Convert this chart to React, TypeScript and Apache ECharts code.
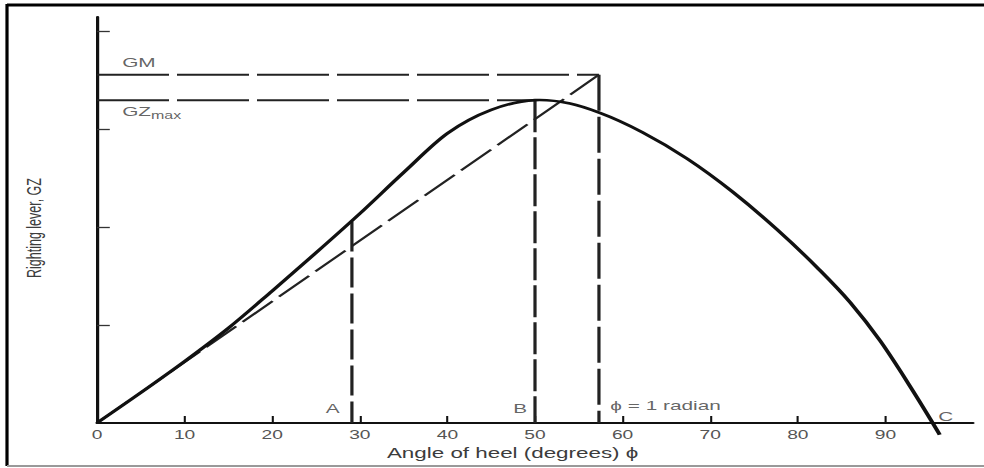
import React, { useEffect, useRef } from "react";
import * as echarts from "echarts";

// ---- data ----
const gzAngles = [0, 5, 10, 15, 20, 25, 30, 35, 40, 45, 50, 54, 57.4, 62.3, 67.4, 72.6, 77.6, 82.2, 86, 89.4, 92.5, 95.4, 96.2];
const gzValues = [0, 0.31, 0.63, 0.97, 1.35, 1.74, 2.14, 2.56, 2.96, 3.2, 3.3, 3.265, 3.17, 2.97, 2.7, 2.36, 1.98, 1.59, 1.23, 0.84, 0.42, 0, -0.12];

const GM_VALUE = 3.56;
const GZ_MAX = 3.3;
const ANGLE_GZ_MAX = 50;
const ONE_RADIAN = 57.3;
const ANGLE_A = 29.1;
const GZ_AT_A = 2.06;

const xTickValues = [10, 20, 30, 40, 50, 60, 70, 80, 90];
const xLabelValues = [0, 10, 20, 30, 40, 50, 60, 70, 80, 90];
const yTickValues = [1, 2, 3, 4];

const noteNames = ["GM", "GZmax", "A", "B", "ϕ = 1 radian", "C"];
const noteX = [2.87, 2.87, 26.9, 48.3, 58.6, 96.9];
const noteY = [3.68, 3.18, 0.153, 0.153, 0.18, 0.07];
const noteAlign = ["left", "left", "center", "center", "left", "center"];

const S = 1.6; // horizontal stretch of the reference figure
const W = 984 / S;
const H = 468;
const INK = "#111";
const TXT = "#3c3c3c";
const FONT = "'Liberation Sans', Arial, Helvetica, sans-serif";

// smooth cubic Hermite path through pixel points (single-valued in x)
function smoothPath(pts: number[][]): string {
  const n = pts.length;
  const m: number[] = [];
  for (let i = 0; i < n; i++) {
    if (i === 0) m.push((pts[1][1] - pts[0][1]) / (pts[1][0] - pts[0][0]));
    else if (i === n - 1) m.push((pts[i][1] - pts[i - 1][1]) / (pts[i][0] - pts[i - 1][0]));
    else {
      const h0 = pts[i][0] - pts[i - 1][0];
      const h1 = pts[i + 1][0] - pts[i][0];
      const d0 = (pts[i][1] - pts[i - 1][1]) / h0;
      const d1 = (pts[i + 1][1] - pts[i][1]) / h1;
      m.push((d0 * h1 + d1 * h0) / (h0 + h1));
    }
  }
  let d = `M${pts[0][0]},${pts[0][1]}`;
  for (let i = 0; i < n - 1; i++) {
    const h = pts[i + 1][0] - pts[i][0];
    const c1x = pts[i][0] + h / 3;
    const c1y = pts[i][1] + (m[i] * h) / 3;
    const c2x = pts[i + 1][0] - h / 3;
    const c2y = pts[i + 1][1] - (m[i + 1] * h) / 3;
    d += ` C${c1x},${c1y} ${c2x},${c2y} ${pts[i + 1][0]},${pts[i + 1][1]}`;
  }
  return d;
}

export default function App() {
  const ref = useRef<HTMLDivElement>(null);
  useEffect(() => {
    if (!ref.current) return;
    const chart = echarts.init(ref.current, null, { renderer: "svg" });
    const curve = gzAngles.map((a, i) => [a, gzValues[i]]);
    const dashed = (data: number[][], dash: number[], width = 2) => ({
      type: "line",
      data,
      symbol: "none",
      silent: true,
      clip: false,
      z: 2,
      lineStyle: { color: "#222", width, type: dash },
    });
    const notes = noteNames.map((n, i) => ({
      name: n,
      value: [noteX[i], noteY[i]],
      label: {
        show: true,
        position: "inside",
        align: noteAlign[i],
        verticalAlign: "middle",
        formatter: n === "GZmax" ? "{a|GZ}{b|max}" : "{b}",
        color: TXT,
        fontSize: 13,
        fontFamily: FONT,
        rich: {
          a: { fontSize: 13, color: TXT, fontFamily: FONT },
          b: { fontSize: 10, color: TXT, fontFamily: FONT, padding: [8, 0, 0, 0] },
        },
      },
    }));
    chart.setOption({
      animation: false,
      backgroundColor: "#fff",
      grid: { left: 97 / S, right: W - 973 / S, top: 17, bottom: 45 },
      xAxis: {
        type: "value",
        min: 0,
        max: 100,
        interval: 10,
        name: "Angle of heel (degrees) ϕ",
        nameLocation: "middle",
        nameGap: 23,
        nameTextStyle: { color: TXT, fontSize: 14, fontFamily: FONT, padding: [0, 28, 0, 0] },
        axisLine: { lineStyle: { color: INK, width: 2 } },
        axisTick: {
          show: true,
          inside: true,
          length: 7,
          customValues: xTickValues,
          lineStyle: { color: INK, width: 1.3 },
        },
        axisLabel: {
          customValues: xLabelValues,
          color: "#555",
          fontSize: 12,
          fontFamily: FONT,
          margin: 6,
        },
        splitLine: { show: false },
      },
      yAxis: {
        type: "value",
        min: 0,
        max: 4.15,
        interval: 1,
        axisLine: { show: true, lineStyle: { color: INK, width: 2 } },
        axisTick: {
          show: true,
          inside: true,
          length: 8,
          customValues: yTickValues,
          lineStyle: { color: "#333", width: 1.3 },
        },
        axisLabel: { show: false },
        splitLine: { show: false },
      },
      graphic: [
        { type: "line", shape: { x1: 7 / S, y1: 4, x2: 7 / S, y2: 466 }, style: { stroke: "#000", lineWidth: 2 } },
        { type: "line", shape: { x1: 7 / S, y1: 5, x2: W, y2: 5 }, style: { stroke: "#000", lineWidth: 3 } },
        { type: "line", shape: { x1: 7 / S, y1: 466, x2: W, y2: 466 }, style: { stroke: "#999", lineWidth: 2 } },
        {
          type: "text",
          x: 34 / S,
          y: 228,
          rotation: Math.PI / 2,
          style: {
            text: "Righting lever, GZ",
            fill: TXT,
            font: `12.5px ${FONT}`,
            align: "center",
            verticalAlign: "middle",
          },
        },
      ],
      series: [
        dashed([[0, GM_VALUE], [ONE_RADIAN, GM_VALUE]], [45, 5]),
        dashed([[0, GZ_MAX], [ANGLE_GZ_MAX, GZ_MAX]], [45, 5]),
        dashed([[ONE_RADIAN, GM_VALUE], [ONE_RADIAN, 0]], [36, 6]),
        dashed([[ANGLE_GZ_MAX, GZ_MAX], [ANGLE_GZ_MAX, 0]], [32, 5]),
        dashed([[ANGLE_A, GZ_AT_A], [ANGLE_A, 0]], [30, 6]),
        dashed([[0, 0], [ONE_RADIAN, GM_VALUE]], [28, 6], 1.8),
        {
          type: "custom",
          name: "GZ",
          data: [curve[0]],
          silent: true,
          clip: false,
          z: 3,
          renderItem: (_params: any, api: any) => {
            const pts = curve.map((p) => api.coord(p));
            return {
              type: "path",
              shape: { pathData: smoothPath(pts) },
              style: { stroke: INK, lineWidth: 2.6, fill: "none" },
            };
          },
        },
        {
          type: "scatter",
          data: notes,
          symbolSize: 1,
          silent: true,
          itemStyle: { color: "transparent" },
          z: 4,
        },
      ],
    });
    return () => chart.dispose();
  }, []);
  return (
    <div
      ref={ref}
      style={{
        position: "absolute",
        left: 0,
        top: 0,
        width: W,
        height: H,
        background: "#fff",
        transform: `scaleX(${S})`,
        transformOrigin: "0 0",
      }}
    />
  );
}
